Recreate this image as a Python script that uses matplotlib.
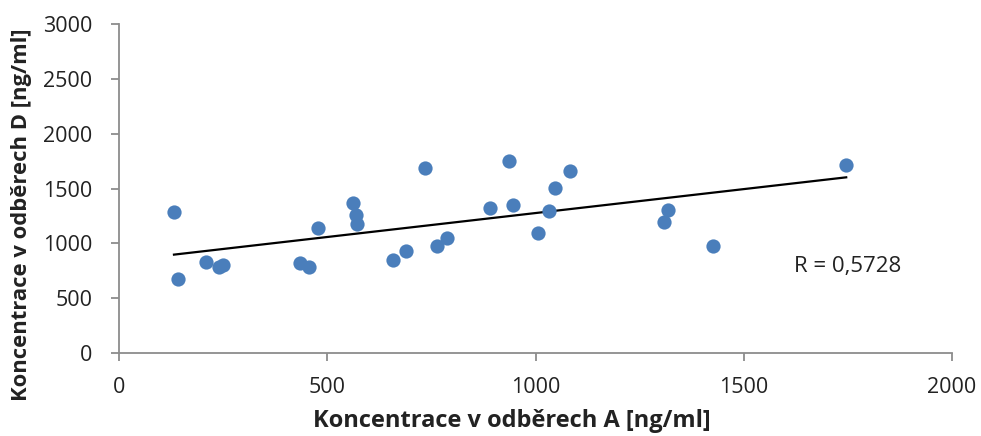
import numpy as np
import matplotlib
matplotlib.use("Agg")
from matplotlib import pyplot as plt

plt.rcParams['font.family'] = ['Open Sans', 'DejaVu Sans']

# hodnoty
konc_a = [132, 142, 209, 240, 250, 434, 456, 477, 561, 569, 572, 658, 690,
          735, 763, 787, 891, 937, 945, 1006, 1032, 1046, 1083, 1308, 1318, 1426, 1746]
konc_d = [1283, 677, 830, 780, 805, 820, 780, 1144, 1372, 1260, 1172, 850, 933,
          1689, 973, 1045, 1325, 1753, 1347, 1097, 1295, 1505, 1657, 1195, 1307, 973, 1711]
r_text = "R = 0,5728"

x = np.array(konc_a)
y = np.array(konc_d)
k, q = np.polyfit(x, y, 1)
xl = np.array([x.min(), x.max()])

fig = plt.figure(figsize=(9.81, 4.36), dpi=100)
ax = fig.add_axes([119 / 981, 1 - 353 / 436, (952 - 119) / 981, (353 - 24) / 436])

ax.scatter(x, y, s=105, color='#4A7EBB', zorder=3, linewidths=0)
ax.plot(xl, k * xl + q, color='black', lw=1.6, zorder=2)

ax.set_xlim(0, 2000)
ax.set_ylim(0, 3000)
ax.set_xticks([0, 500, 1000, 1500, 2000])
ax.set_yticks([0, 500, 1000, 1500, 2000, 2500, 3000])

for s in ['top', 'right']:
    ax.spines[s].set_visible(False)
for s in ['left', 'bottom']:
    ax.spines[s].set_color('#8c8c8c')
    ax.spines[s].set_linewidth(1.3)
ax.tick_params(colors='#8c8c8c', length=6, width=1.3, labelsize=15.5,
               labelcolor='#222222')
ax.tick_params(axis='x', pad=11)
ax.tick_params(axis='y', pad=13)

ax.set_xlabel('Koncentrace v odběrech A [ng/ml]', fontsize=17, fontweight='bold',
              color='#222222', labelpad=8)
ax.set_ylabel('Koncentrace v odběrech D [ng/ml]', fontsize=15.8, fontweight='bold',
              color='#222222', labelpad=8)
ax.xaxis.label.set_x(0.472)
ax.yaxis.label.set_y(0.42)

ax.text(1621, 793, r_text, fontsize=16, color='#222222', va='center', ha='left')

fig.savefig('out.png', dpi=100)
